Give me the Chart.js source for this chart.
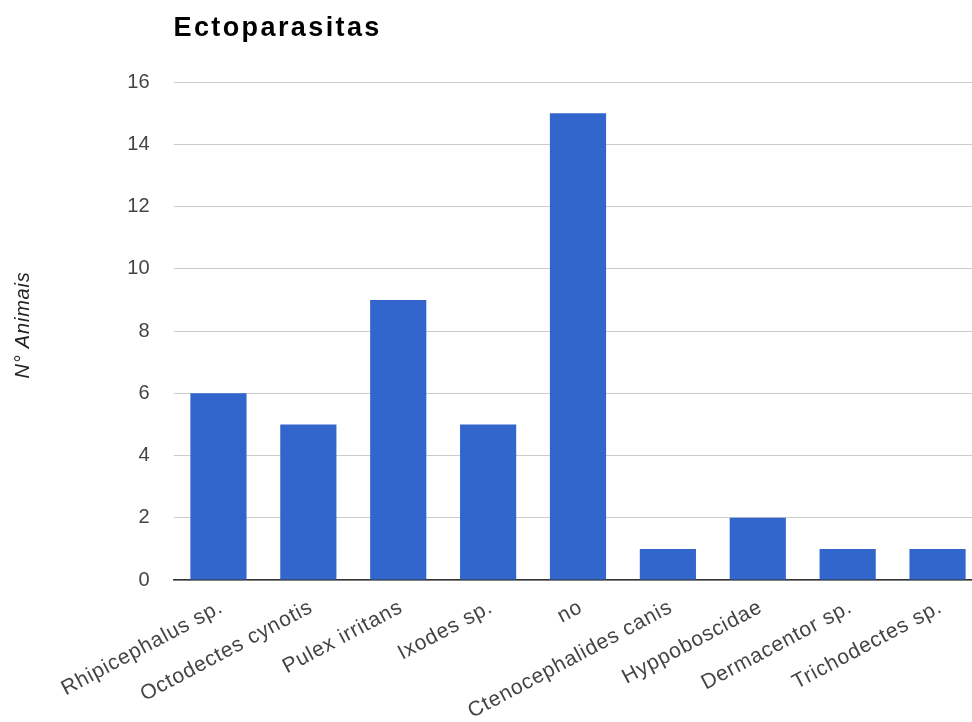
<!DOCTYPE html>
<html>
<head>
<meta charset="utf-8">
<title>Ectoparasitas</title>
<script src="https://cdn.jsdelivr.net/npm/chart.js@4/dist/chart.umd.min.js"></script>
<style>
  html, body { margin: 0; padding: 0; background: #fff; overflow: hidden; }
  #wrap { position: absolute; left: 0; top: 0; width: 990px; height: 722px; }
</style>
</head>
<body>
<div id="wrap"><canvas id="ecto-chart" width="990" height="722"></canvas></div>
<script>
// categorias e contagem de animais
const categorias = [
    'Rhipicephalus sp.', 'Octodectes cynotis', 'Pulex irritans', 'Ixodes sp.', 'no',
    'Ctenocephalides canis', 'Hyppoboscidae', 'Dermacentor sp.', 'Trichodectes sp.'
];
const animais = [6, 5, 9, 5, 15, 1, 2, 1, 1];
const yTicks = [0, 2, 4, 6, 8, 10, 12, 14, 16];

const FONT = '"Liberation Sans", Arial, sans-serif';

// Chart.js has no letter-spacing option, so wrap a draw method and set it on the context
// (dx/dy nudge the text a little)
function comEspaco(obj, metodo, px, dx = 0, dy = 0) {
    if (!obj || obj['_orig_' + metodo]) return;
    const orig = obj[metodo];
    obj['_orig_' + metodo] = orig;
    obj[metodo] = function(...args) {
        const c = this.ctx;
        c.save();
        c.letterSpacing = px;
        c.translate(dx, dy);
        orig.apply(this, args);
        c.restore();
    };
}

const espacamento = {
    id: 'espacamento',
    afterLayout(chart) {
        comEspaco(chart.scales.x, 'drawLabels', '0.8px', 3, 0);
        comEspaco(chart.scales.y, 'drawTitle', '0.8px', 0, -6);
        comEspaco(chart.titleBlock, 'draw', '2.4px');
    }
};

window.onload = function() {
    const ctx = document.getElementById('ecto-chart').getContext('2d');

    new Chart(ctx, {
        type: 'bar',
        data: {
            labels: categorias,
            datasets: [{
                label: 'N° Animais',
                data: animais,
                backgroundColor: '#3366cc',
                borderWidth: 0,
                barPercentage: 0.625,
                categoryPercentage: 1
            }]
        },
        options: {
            responsive: false,
            animation: false,
            layout: { padding: { left: 0, right: 7.5, top: 0, bottom: 0 } },
            scales: {
                x: {
                    grid: { display: false, drawTicks: false },
                    border: { display: true, color: '#333', width: 1.5 },
                    ticks: {
                        color: '#444',
                        font: { family: FONT, size: 21 },
                        minRotation: 28,
                        maxRotation: 28,
                        autoSkip: false,
                        padding: 15
                    },
                    afterFit: scale => { scale.height = 142; }
                },
                y: {
                    min: 0,
                    max: 16,
                    afterBuildTicks: scale => { scale.ticks = yTicks.map(v => ({ value: v })); },
                    grid: { color: '#cccccc', lineWidth: 1, drawTicks: false },
                    border: { display: false },
                    ticks: {
                        color: '#444',
                        font: { family: FONT, size: 20 },
                        padding: 24
                    },
                    title: {
                        display: true,
                        text: 'N° Animais',
                        color: '#222',
                        font: { family: FONT, size: 20, style: 'italic' },
                        padding: { top: 11, bottom: 0 }
                    },
                    afterFit: scale => { scale.width = 173.5; }
                }
            },
            plugins: {
                legend: { display: false },
                tooltip: { enabled: false },
                title: {
                    display: true,
                    text: 'Ectoparasitas',
                    align: 'start',
                    fullSize: false,
                    color: '#000',
                    font: { family: FONT, size: 27, weight: 'bold' },
                    padding: { top: 12, bottom: 37.6 }
                }
            }
        },
        plugins: [espacamento]
    });
};
</script>
</body>
</html>
